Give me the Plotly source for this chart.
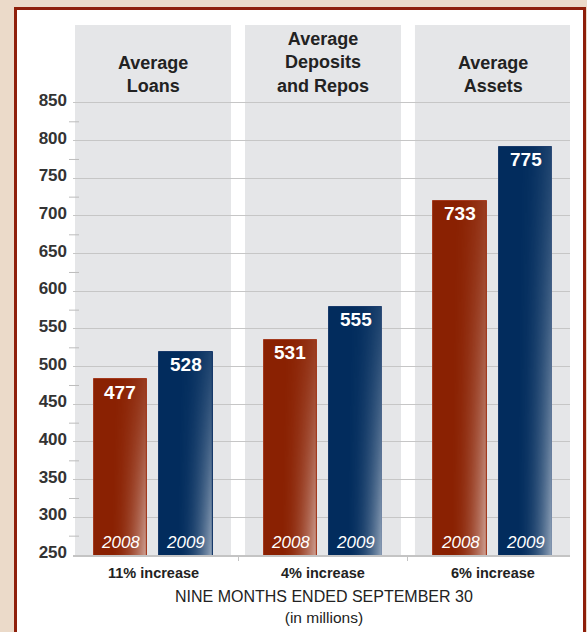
import base64
import struct
import zlib

import plotly.graph_objects as go

# ---- data ----
categories = ["Average Loans", "Average Deposits and Repos", "Average Assets"]
title_lines = [["Average", "Loans"], ["Average", "Deposits", "and Repos"], ["Average", "Assets"]]
years = ["2008", "2009"]
labels_2008 = [477, 531, 733]
labels_2009 = [528, 555, 775]
# bar heights as drawn in the picture (millions)
heights_2008 = [483.6, 535.8, 720.3]
heights_2009 = [519.5, 579.6, 792.0]
increase_labels = ["11% increase", "4% increase", "6% increase"]
y_ticks = [250, 300, 350, 400, 450, 500, 550, 600, 650, 700, 750, 800, 850]
x_title = "NINE MONTHS ENDED SEPTEMBER 30"
x_subtitle = "(in millions)"

# ---- style ----
W, H = 587, 632
ML, MR, MT, MB = 73, 17, 25, 77
PLOT_W = W - ML - MR
PLOT_H = H - MT - MB
Y0, Y1 = 250, 953.5
X0, X1 = -0.4706, 2.453
BAR_W = 0.312
OFF = 0.194
RED = "#8A2102"
NAVY = "#022C5D"
BEIGE = "#EBDAC9"
FRAME = "#8E1F0B"
PANEL = "#E5E6E8"
TXT = "#222222"
SANS = "Liberation Sans, Arial, Helvetica, sans-serif"


def py(px):
    """pixel row -> paper y"""
    return (H - MB - px) / PLOT_H


def gradient_png(w=48, h=96):
    """white overlay whose opacity grows toward the bottom-right corner"""
    rows = []
    for j in range(h):
        v = j / (h - 1)
        row = bytearray([0])
        for i in range(w):
            u = i / (w - 1)
            d = max(0.0, (u - 0.25) / 0.75)
            a = 0.56 * d ** 2.2 * (0.22 + 0.78 * v ** 1.2)
            row += bytes([255, 255, 255, int(round(255 * min(a, 1.0)))])
        rows.append(bytes(row))
    raw = b"".join(rows)

    def chunk(tag, data):
        c = struct.pack(">I", len(data)) + tag + data
        return c + struct.pack(">I", zlib.crc32(tag + data) & 0xFFFFFFFF)

    png = b"\x89PNG\r\n\x1a\n"
    png += chunk(b"IHDR", struct.pack(">IIBBBBB", w, h, 8, 6, 0, 0, 0))
    png += chunk(b"IDAT", zlib.compress(raw, 9))
    png += chunk(b"IEND", b"")
    return "data:image/png;base64," + base64.b64encode(png).decode()


GRAD = gradient_png()

xs = list(range(len(categories)))
fig = go.Figure()

images = []
for series, heights, color, line_c, off in [
    ("2008", heights_2008, RED, "#A33A1E", -OFF),
    ("2009", heights_2009, NAVY, "#17396A", OFF),
]:
    fig.add_trace(go.Bar(
        x=[x + off for x in xs], y=heights, width=BAR_W, name=series,
        marker=dict(color=color, line=dict(color=line_c, width=1)),
        showlegend=False,
    ))
    for x, h in zip(xs, heights):
        images.append(dict(source=GRAD, xref="x", yref="y",
                           x=x + off - BAR_W / 2 + 0.004, y=h,
                           sizex=BAR_W - 0.008, sizey=h - Y0,
                           xanchor="left", yanchor="top", sizing="stretch",
                           layer="above", opacity=1))

shapes = []
# outer frame
shapes.append(dict(type="rect", xref="paper", yref="paper",
                   x0=(15.5 - ML) / PLOT_W, x1=(584.5 - ML) / PLOT_W,
                   y0=py(650), y1=py(8.5),
                   fillcolor="white", line=dict(color=FRAME, width=3), layer="below"))
# grey column panels
for x in xs:
    shapes.append(dict(type="rect", xref="x", yref="y", x0=x - 0.459, x1=x + 0.459,
                       y0=Y0, y1=Y1, fillcolor=PANEL, line=dict(width=0), layer="below"))
# minor ticks
for v in y_ticks[:-1]:
    m = v + 25
    shapes.append(dict(type="line", xref="paper", yref="y",
                       x0=-4 / PLOT_W, x1=6 / PLOT_W, y0=m, y1=m,
                       line=dict(color="#BDBDBD", width=1), layer="above"))

annotations = []
# column titles
TITLE_SIZE = 18
LINE_H = 1.3 * TITLE_SIZE
for x, lines in zip(xs, title_lines):
    n = len(lines)
    center_px = 86 - (n - 1) * LINE_H / 2
    annotations.append(dict(x=x, y=py(center_px), xref="x", yref="paper",
                            text="<br>".join(lines), showarrow=False, yanchor="middle",
                            font=dict(family=SANS, size=TITLE_SIZE, color=TXT, weight="bold")))
# value labels and years
for labels, heights, off in [(labels_2008, heights_2008, -OFF), (labels_2009, heights_2009, OFF)]:
    for x, lab, h in zip(xs, labels, heights):
        annotations.append(dict(x=x + off, y=h, xref="x", yref="y", text=f"<b>{lab}</b>",
                                showarrow=False, yanchor="middle", yshift=-13,
                                font=dict(family=SANS, size=19, color="white")))
for year, off in zip(years, [-OFF, OFF]):
    for x in xs:
        annotations.append(dict(x=x + off, y=Y0, xref="x", yref="y", text=f"<i>{year}</i>",
                                showarrow=False, yanchor="middle", yshift=13,
                                font=dict(family=SANS, size=17, color="white")))
# increase labels
for x, t in zip(xs, increase_labels):
    annotations.append(dict(x=x, y=py(572.5), xref="x", yref="paper", text=f"<b>{t}</b>",
                            showarrow=False, yanchor="middle",
                            font=dict(family=SANS, size=14.5, color=TXT)))
# axis title (two lines in one text)
annotations.append(dict(x=(324 - ML) / PLOT_W, y=py(606.5), xref="paper", yref="paper",
                        text=f"{x_title}<br><span style='font-size:15.5px'>{x_subtitle}</span>",
                        showarrow=False, yanchor="middle",
                        font=dict(family=SANS, size=16, color=TXT)))

fig.update_layout(
    width=W, height=H, margin=dict(l=ML, r=MR, t=MT, b=MB),
    paper_bgcolor=BEIGE, plot_bgcolor="white",
    shapes=shapes, annotations=annotations, images=images, bargap=0, showlegend=False,
    xaxis=dict(range=[X0, X1], showgrid=False, zeroline=False, showline=True,
               linecolor="#C4C4C4", linewidth=2, tickvals=[0.5, 1.5], ticktext=["", ""],
               ticks="outside", ticklen=4, tickcolor="#C4C4C4", fixedrange=True),
    yaxis=dict(range=[Y0, Y1], tickvals=y_ticks, ticktext=[str(v) for v in y_ticks],
               showgrid=True, gridcolor="#C6C6C6", gridwidth=1, zeroline=False,
               showline=False, ticks="", ticklabelstandoff=5, ticklabelshift=-3,
               tickfont=dict(family=SANS, size=17, color="#333333", weight="bold"),
               fixedrange=True),
)

fig.write_html("out.html")
